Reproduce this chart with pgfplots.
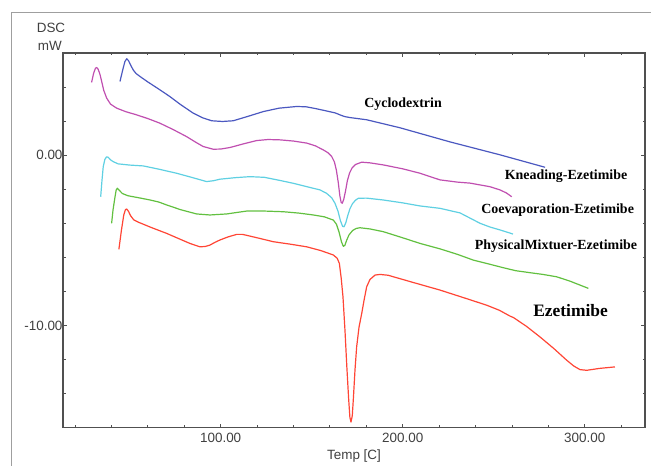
\documentclass[border=0pt]{standalone}
\usepackage{pgfplots}
\pgfplotsset{compat=1.18}
\usepackage{fontspec}
\setmainfont{Liberation Serif}
\setsansfont{Liberation Sans}
\definecolor{cblue}{HTML}{4B58C0}
\definecolor{cmag}{HTML}{C04FB0}
\definecolor{ccyan}{HTML}{5FD0E2}
\definecolor{cgreen}{HTML}{62C040}
\definecolor{cred}{HTML}{FF4535}
\definecolor{axgray}{HTML}{505050}
\begin{document}
\begin{tikzpicture}
\useasboundingbox (0,0) rectangle (651bp,466bp);
\draw[gray!75, line width=1bp] (11bp,0) -- (11bp,453bp) -- (651bp,453bp);
\begin{axis}[
  at={(63bp,38.3bp)}, anchor=south west,
  scale only axis, width=582bp, height=374.7bp,
  xmin=13.4, xmax=333.1, ymin=-16, ymax=6,
  axis line style={axgray, line width=1.3bp},
  xtick={100,200,300}, ytick={-10,0},
  minor xtick={20,40,60,80,120,140,160,180,220,240,260,280,320},
  minor ytick={-16,-14,-12,-8,-6,-4,-2,2,4,6},
  tick align=inside,
  major tick length=4bp, minor tick length=2.5bp,
  tick style={axgray, line width=0.8bp},
  /pgf/number format/assume math mode=true,
  /pgf/number format/.cd, fixed, fixed zerofill, precision=2, /pgfplots/.cd,
  ticklabel style={font=\fontsize{13.5}{15}\selectfont\sffamily, text=black!75},
  xticklabel style={yshift=-1.5bp},
  yticklabel style={xshift=3bp},
  xlabel={Temp [C]},
  xlabel style={at={(axis description cs:0.5,-0.0755)}, anchor=center, font=\fontsize{13.5}{15}\selectfont\sffamily, text=black!75},
  clip=false,
  every axis plot/.append style={line width=1.2bp, line join=round},
]
\addplot[cblue] coordinates {
(44.7,4.33) (46.2,5.0) (47.4,5.5) (48.4,5.66) (49.4,5.55) (50.5,5.3) (52,5.0) (53.5,4.8) (55.7,4.62) (60,4.3) (66.6,3.84) (72,3.45) (77.6,3.0) (84.9,2.47) (90,2.2) (95.1,2.02) (101,1.98) (106.9,2.02) (115,2.28) (123.4,2.56) (132,2.76) (141.8,2.86) (147,2.84) (152,2.74) (158,2.6) (163,2.48) (165.5,2.37) (168,2.27) (171,2.21) (180.2,2.08) (198.5,1.61) (226,0.78) (253.5,0.02) (278.2,-0.71)
};
\addplot[cmag] coordinates {
(29.1,4.27) (30.2,4.8) (31.2,5.1) (31.9,5.15) (32.7,5.05) (33.7,4.75) (34.6,4.35) (35.8,3.8) (37.4,3.35) (39.5,3.0) (42.9,2.76) (48,2.55) (53.8,2.37) (60,2.15) (66.6,1.88) (74,1.5) (81.3,1.09) (86,0.78) (90.4,0.51) (95.9,0.35) (100,0.36) (105.1,0.45) (112,0.65) (119.8,0.86) (126,0.92) (132.6,0.9) (140,0.83) (147.3,0.71) (152,0.55) (156.4,0.31) (159,0.14) (161.0,-0.08) (162.5,-0.4) (163.6,-0.9) (164.6,-1.6) (165.5,-2.4) (166.2,-2.78) (166.8,-2.82) (167.6,-2.6) (168.6,-2.1) (169.6,-1.5) (170.8,-1.05) (172.2,-0.75) (174,-0.55) (177.5,-0.41) (182,-0.45) (189.3,-0.57) (200,-0.8) (209.5,-1.06) (220.5,-1.45) (230,-1.58) (237,-1.64) (247.9,-1.85) (253.5,-2.04) (257,-2.22) (259.9,-2.44)
};
\addplot[ccyan] coordinates {
(34.1,-2.44) (34.8,-1.5) (35.5,-0.67) (36.4,-0.25) (37.3,-0.1) (38.2,-0.12) (39.6,-0.28) (41.0,-0.38) (43.7,-0.51) (50,-0.58) (57.5,-0.63) (66,-0.82) (75.8,-1.06) (84,-1.3) (92.3,-1.55) (96,-1.5) (99.6,-1.41) (108,-1.32) (116.1,-1.26) (124,-1.3) (132,-1.47) (139.9,-1.65) (147,-1.84) (154.6,-2.04) (158.2,-2.24) (161,-2.5) (162.8,-2.82) (164.5,-3.3) (165.8,-3.85) (167,-4.18) (167.8,-4.2) (168.8,-3.95) (169.8,-3.55) (171,-3.15) (172.4,-2.85) (174,-2.65) (175.6,-2.53) (180,-2.52) (189.3,-2.63) (200,-2.8) (209.5,-2.98) (220.5,-3.12) (231.5,-3.39) (242.5,-4.0) (248,-4.22) (253.5,-4.39) (260.6,-4.63)
};
\addplot[cgreen] coordinates {
(40.1,-4.0) (40.9,-3.2) (41.9,-2.5) (42.6,-2.05) (43.2,-1.94) (44.2,-2.05) (46,-2.25) (49,-2.38) (52.0,-2.44) (56,-2.52) (61.2,-2.63) (66,-2.75) (70.3,-2.92) (78,-3.2) (86.8,-3.45) (94.1,-3.51) (103.3,-3.45) (114.3,-3.28) (124,-3.28) (134.4,-3.32) (143,-3.4) (150.9,-3.51) (157,-3.62) (161.9,-3.81) (163.6,-4.05) (165,-4.5) (166.4,-5.1) (167.4,-5.35) (168.2,-5.3) (169.2,-5.0) (170.5,-4.68) (172.5,-4.42) (174.5,-4.3) (176.5,-4.26) (182,-4.33) (189.3,-4.49) (200,-4.85) (209.5,-5.18) (220.5,-5.5) (230,-5.82) (238.8,-6.16) (247,-6.38) (255,-6.6) (262,-6.78) (270,-6.9) (277,-7.0) (284.6,-7.14) (292,-7.4) (302,-7.82)
};
\addplot[cred] coordinates {
(44.1,-5.53) (45.5,-4.4) (46.8,-3.5) (47.7,-3.2) (48.4,-3.16) (49.4,-3.3) (50.5,-3.55) (52.3,-3.8) (54.7,-3.93) (62,-4.25) (70.3,-4.59) (77,-4.9) (83.1,-5.18) (88.6,-5.38) (91.5,-5.36) (94.1,-5.28) (96.8,-5.12) (99.6,-4.98) (104,-4.8) (108.8,-4.65) (112,-4.65) (116.1,-4.75) (122,-4.9) (128.9,-5.08) (138,-5.22) (147.3,-5.38) (155,-5.6) (161.9,-5.86) (164,-6.05) (165.2,-6.35) (166.2,-7.2) (167.2,-8.32) (168.3,-10.3) (169.3,-12.4) (170.3,-14.3) (171,-15.4) (171.6,-15.67) (172.3,-15.3) (172.9,-14.3) (173.8,-12.6) (174.7,-11.26) (176,-10.1) (177.5,-9.29) (178.8,-8.5) (180.2,-7.73) (182,-7.3) (184.8,-7.04) (187.5,-7.0) (192,-7.05) (205,-7.45) (220.5,-7.92) (233,-8.35) (246.2,-8.81) (253,-9.1) (259,-9.45) (260.8,-9.53) (268,-10.05) (275.4,-10.67) (283,-11.35) (290.1,-12.04) (294,-12.38) (297.4,-12.59) (301.1,-12.63) (308,-12.52) (316.6,-12.43)
};
\node[font=\fontsize{14}{16}\selectfont\bfseries] at (axis cs:200.2,3.02) {Cyclodextrin};
\node[font=\fontsize{14}{16}\selectfont\bfseries] at (axis cs:289.7,-1.26) {Kneading-Ezetimibe};
\node[font=\fontsize{14}{16}\selectfont\bfseries] at (axis cs:285.1,-3.22) {Coevaporation-Ezetimibe};
\node[font=\fontsize{14}{16}\selectfont\bfseries] at (axis cs:284.2,-5.32) {PhysicalMixtuer-Ezetimibe};
\node[font=\fontsize{17.5}{20}\selectfont\bfseries] at (axis cs:292.2,-9.1) {Ezetimibe};
\node[font=\fontsize{13.5}{15}\selectfont\sffamily, text=black!75] at (axis description cs:-0.0206,1.0667) {DSC};
\node[font=\fontsize{13.5}{15}\selectfont\sffamily, text=black!75] at (axis description cs:-0.0225,1.0187) {mW};
\end{axis}
\end{tikzpicture}
\end{document}
